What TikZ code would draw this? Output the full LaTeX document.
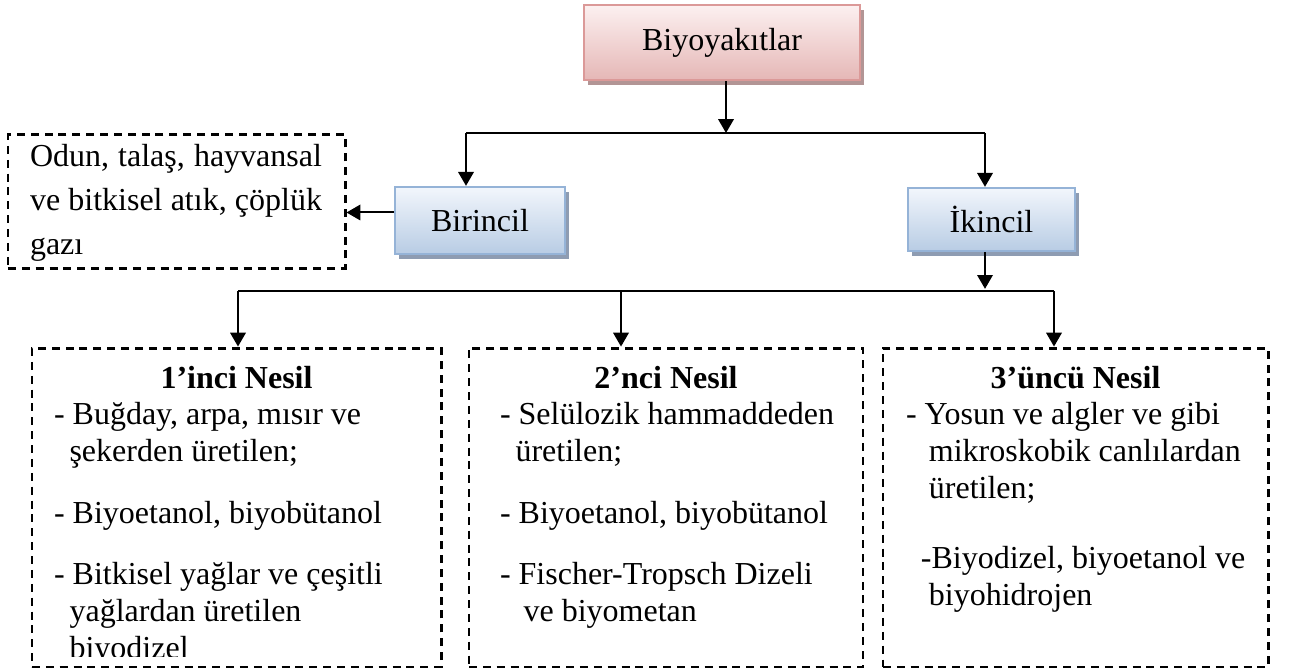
\documentclass[tikz,border=0pt]{standalone}
\usepackage{fontspec}
\setmainfont{Liberation Serif}
\usetikzlibrary{arrows.meta,shadows}

\definecolor{pinktop}{HTML}{FCF0F0}
\definecolor{pinkbot}{HTML}{E5B7B6}
\definecolor{pinkline}{HTML}{DB9998}
\definecolor{pinkshad}{HTML}{B29595}
\definecolor{bluetop}{HTML}{F2F6FC}
\definecolor{bluebot}{HTML}{B8CCE4}
\definecolor{blueline}{HTML}{95B3D7}
\definecolor{blueshad}{HTML}{8E9CB2}

\newlength\indentw

\begin{document}
\frenchspacing
\settowidth{\indentw}{- }
\begin{tikzpicture}[x=0.375pt,y=-0.375pt,line width=0.75pt,
	every node/.style={font=\fontsize{12}{13.9}\selectfont},
	arr/.style={-{Triangle[length=5.2pt,width=5.8pt]}},
	pinkbox/.style={draw=pinkline,line width=0.9pt,top color=pinktop,bottom color=pinkbot,
		drop shadow={shadow xshift=1.5pt,shadow yshift=-1.8pt,fill=pinkshad,opacity=1}},
	bluebox/.style={draw=blueline,line width=0.9pt,top color=bluetop,bottom color=bluebot,
		drop shadow={shadow xshift=1.5pt,shadow yshift=-1.8pt,fill=blueshad,opacity=1}},
	dashbox/.style={draw,line width=1.1pt,dash pattern=on 3pt off 2.2pt,inner sep=0pt},
	body/.style={anchor=base west,inner sep=0pt,align=flush left}]
	\useasboundingbox (0,0) rectangle (1289,670);
	% upper part
	\node[pinkbox,minimum width=103.5pt,minimum height=28.1pt] (top) at (722,42.5) {Biyoyak\i tlar};
	\node[bluebox,minimum width=63.75pt,minimum height=25.1pt] (bir) at (480,220.5) {Birincil};
	\node[bluebox,minimum width=62.6pt,minimum height=23.6pt] (ikin) at (991.5,219.5) {\.Ikincil};
	\node[dashbox,minimum width=126.4pt,minimum height=49.9pt] (odun) at (176.5,201.5) {};
	\node[inner sep=0pt,text width=109.5pt,align=justify,
		font=\fontsize{12}{16.5}\selectfont] (oduntxt) at (176,203)
		{Odun, tala\c s, hayvansal ve bitkisel at\i k, \c c\"opl\"uk gaz\i};
	% lower boxes
	\node[dashbox,minimum width=153.4pt,minimum height=119.6pt] (b1) at (236.5,507.5) {};
	\node[dashbox,minimum width=147.75pt,minimum height=119.6pt] (b2) at (666,507.5) {};
	\node[dashbox,minimum width=144.4pt,minimum height=119.6pt] (b3) at (1075.5,507.5) {};
	\node[anchor=base,inner sep=0pt,font=\fontsize{12}{13.9}\selectfont\bfseries] (t1) at (236.5,388) {1’inci Nesil};
	\node[anchor=base,inner sep=0pt,font=\fontsize{12}{13.9}\selectfont\bfseries] (t2) at (666,388) {2’nci Nesil};
	\node[anchor=base,inner sep=0pt,font=\fontsize{12}{13.9}\selectfont\bfseries] (t3) at (1075.5,388) {3’üncü Nesil};
	\begin{scope}
	\clip (b1.north west) rectangle (441,656);
	\node[body,text width=140pt] (l1) at (53,424) {- Buğday, arpa, mısır ve\\
		\hspace*{\indentw}şekerden üretilen;\\[9.5pt]
		- Biyoetanol, biyobütanol\\[9pt]
		- Bitkisel yağlar ve çeşitli\\
		\hspace*{\indentw}yağlardan üretilen\\
		\hspace*{\indentw}biyodizel};
	\end{scope}
	\node[body,text width=135pt] (l2) at (499,424) {- Selülozik hammaddeden\\
		\hspace*{\indentw}üretilen;\\[9.5pt]
		- Biyoetanol, biyobütanol\\[9pt]
		- Fischer-Tropsch Dizeli\\
		\hspace*{\indentw}\ ve biyometan};
	\node[body,text width=135pt] (l3) at (905,424) {- Yosun ve algler ve gibi\\
		\hspace*{8.6pt}mikroskobik canlılardan\\
		\hspace*{8.6pt}üretilen;\\[12.5pt]
		\hspace*{5.6pt}-Biyodizel, biyoetanol ve\\
		\hspace*{8.6pt}biyohidrojen};
	% connectors
	\coordinate (j1) at (726,133);
	\coordinate (j2) at (985,291);
	\coordinate (d1) at (238,291);
	\coordinate (d2) at (621,291);
	\coordinate (d3) at (1054,291);
	\coordinate (e1) at (466,133);
	\coordinate (e2) at (985,133);
	\draw[arr] (j1 |- top.south) -- (j1);
	\draw (e1) -- (e2);
	\draw[arr] (e1) -- (e1 |- bir.north);
	\draw[arr] (e2) -- (e2 |- ikin.north);
	\draw[arr] ([yshift=3pt]bir.west) -- ([yshift=3pt]bir.west -| odun.east);
	\draw[arr] (j2 |- ikin.south) -- ([yshift=0.8pt]j2);
	\draw (d1) -- (d3);
	\draw[arr] (d1) -- (d1 |- b1.north);
	\draw[arr] (d2) -- (d2 |- b2.north);
	\draw[arr] (d3) -- (d3 |- b3.north);
\end{tikzpicture}
\end{document}
